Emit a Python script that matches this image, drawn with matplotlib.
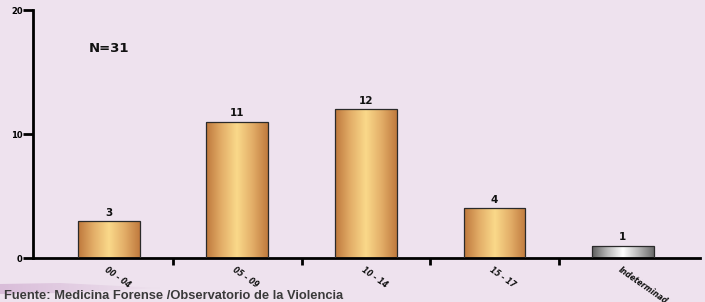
import matplotlib
matplotlib.use('Agg')
import matplotlib.pyplot as plt
import numpy as np
from matplotlib.colors import LinearSegmentedColormap
from matplotlib.patches import Polygon

categories = ['00 - 04', '05 - 09', '10 - 14', '15 - 17', 'Indeterminad']
values = [3, 11, 12, 4, 1]
bar_kind = ['copper', 'copper', 'copper', 'copper', 'gray']
y_ticks = [0, 10, 20]

bg = '#EEE2EE'
cmaps = {
    'copper': LinearSegmentedColormap.from_list(
        'cop', ['#BE783C', '#E3AE68', '#FAD98A', '#E3AE68', '#C07A3E']),
    'gray': LinearSegmentedColormap.from_list(
        'gry', ['#5E5E5E', '#B8B8B8', '#FFFFFF', '#B8B8B8', '#6A6A6A']),
}

fig = plt.figure(figsize=(7.05, 3.02), dpi=100)
fig.patch.set_facecolor(bg)

# faint swoosh at bottom left
bgax = fig.add_axes([0, 0, 1, 1], zorder=-5)
bgax.set_xlim(0, 705)
bgax.set_ylim(302, 0)
bgax.axis('off')
grad = np.linspace(1, 0, 256).reshape(1, -1)
sw = bgax.imshow(grad, extent=[0, 160, 294, 282], cmap=LinearSegmentedColormap.from_list(
    'sw', [bg, '#D9BDD9']), aspect='auto', zorder=0)
sw.set_clip_path(Polygon([[0, 284], [60, 283], [160, 288], [60, 293], [0, 294]],
                         transform=bgax.transData))

ax = fig.add_axes([33 / 705, 44 / 302, 667 / 705, 248 / 302])
ax.set_facecolor('none')
x = np.arange(len(categories))
width = 0.48
bars = ax.bar(x, values, width=width, color='none', edgecolor='#2a2a2a',
              linewidth=0.9, zorder=3)
for b, kind in zip(bars, bar_kind):
    x0, y0 = b.get_x(), b.get_y()
    im = ax.imshow(np.linspace(0, 1, 256).reshape(1, -1), cmap=cmaps[kind],
                   extent=[x0, x0 + b.get_width(), y0, y0 + b.get_height()],
                   aspect='auto', zorder=2)
    im.set_clip_path(b)

for xi, v in zip(x, values):
    ax.text(xi, v + 0.25, str(v), ha='center', va='bottom', fontsize=7.5,
            fontweight='bold', color='#111111')

ax.text(0.0, 16.9, 'N=31', ha='center', va='center', fontsize=9.5,
        fontweight='bold', color='#111111')

ax.set_xlim(-0.59, 4.6)
ax.set_ylim(0, 20)
ax.spines['top'].set_visible(False)
ax.spines['right'].set_visible(False)
ax.spines['left'].set_linewidth(2)
ax.spines['bottom'].set_linewidth(2)

ax.set_yticks(y_ticks)
ax.set_yticklabels([str(t) for t in y_ticks], fontsize=6, fontweight='bold')
ax.tick_params(axis='y', length=7, width=2, pad=0.5)

ax.set_xticks(x)
ax.set_xticklabels([])
ax.tick_params(axis='x', length=0)
ax.set_xticks(x[:-1] + 0.5, minor=True)
ax.tick_params(axis='x', which='minor', length=5, width=2, direction='out')

for xi, lab in zip(x, categories):
    ax.text(xi - 0.01, -0.6, lab, rotation=-35, rotation_mode='anchor',
            ha='left', va='top', fontsize=5.5, fontweight='bold',
            fontstyle='italic', color='#111111', clip_on=False)

fig.text(4 / 705, 1 - 296 / 302, 'Fuente: Medicina Forense /Observatorio de la Violencia',
         fontsize=9.3, fontweight='bold', family='Liberation Sans', color='#3a3a3a',
         ha='left', va='center')

fig.savefig('out.png', dpi=100, facecolor=bg)
